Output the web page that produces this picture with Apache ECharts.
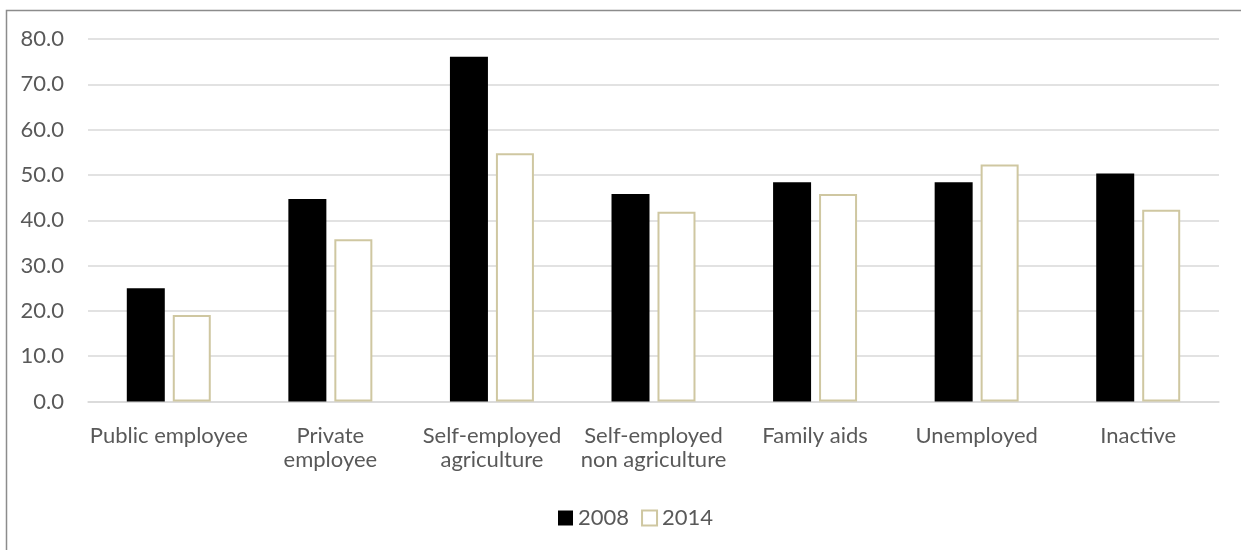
<!DOCTYPE html>
<html>
<head>
<meta charset="utf-8">
<script src="https://cdn.jsdelivr.net/npm/echarts@6/dist/echarts.min.js"></script>
<style>
  html, body { margin: 0; padding: 0; background: #fff; }
  #chart { width: 1241px; height: 550px; }
</style>
</head>
<body>
<div id="chart"></div>
<script>
// Categories and values per year
const categories = [
  'Public employee',
  'Private\nemployee',
  'Self-employed\nagriculture',
  'Self-employed\nnon agriculture',
  'Family aids',
  'Unemployed',
  'Inactive'
];
const seriesNames = ['2008', '2014'];
const values2008 = [25.0, 44.7, 76.1, 45.8, 48.4, 48.4, 50.3];
const values2014 = [19.1, 35.8, 54.8, 41.9, 45.8, 52.3, 42.3];

const textColor = '#595959';
const fontFamily = 'Lato, "Open Sans", sans-serif';
const tan = '#CFC7A1';

const chart = echarts.init(document.getElementById('chart'), null, { renderer: 'canvas' });

chart.setOption({
  animation: false,
  backgroundColor: '#fff',
  textStyle: { fontFamily: fontFamily },
  graphic: [{
    type: 'rect',
    shape: { x: 6.5, y: 10.5, width: 1400, height: 700 },
    style: { fill: 'none', stroke: '#8c8c8c', lineWidth: 1.5 },
    silent: true,
    z: -1
  }],
  grid: { left: 88, right: 22, top: 39, height: 362.5, containLabel: false },
  legend: {
    data: seriesNames,
    left: 553,
    top: 502,
    itemWidth: 15,
    itemHeight: 15,
    itemGap: 12,
    icon: 'rect',
    textStyle: { color: textColor, fontSize: 22, fontFamily: fontFamily }
  },
  xAxis: {
    type: 'category',
    data: categories,
    axisLine: { show: true, lineStyle: { color: '#d9d9d9', width: 1.5 } },
    axisTick: { show: false },
    axisLabel: {
      color: textColor,
      fontSize: 22,
      fontFamily: fontFamily,
      margin: 22,
      lineHeight: 24,
      interval: 0
    }
  },
  yAxis: {
    type: 'value',
    min: 0,
    max: 80,
    interval: 10,
    axisLine: { show: false },
    axisTick: { show: false },
    splitLine: { lineStyle: { color: '#d9d9d9', width: 1.5 } },
    axisLabel: {
      color: textColor,
      fontSize: 22,
      fontFamily: fontFamily,
      margin: 24,
      formatter: v => v.toFixed(1)
    }
  },
  series: [
    {
      name: seriesNames[0],
      type: 'bar',
      data: values2008,
      barWidth: 38,
      barGap: '21%',
      itemStyle: { color: '#000000', borderColor: '#000000', borderWidth: 0 }
    },
    {
      name: seriesNames[1],
      type: 'bar',
      data: values2014,
      barWidth: 38,
      itemStyle: { color: '#ffffff', borderColor: tan, borderWidth: 2 }
    }
  ]
});
</script>
</body>
</html>
